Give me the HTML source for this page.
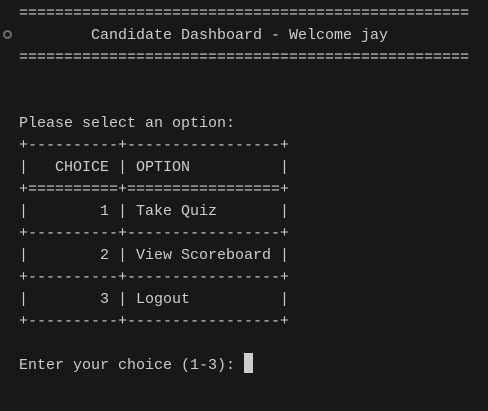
<!DOCTYPE html>
<html><head><style>
html,body{margin:0;padding:0;background:#181818;width:488px;height:411px;overflow:hidden}
pre{position:absolute;left:19px;top:3px;margin:0;font-family:"Liberation Mono",monospace;font-size:15px;line-height:22px;color:#cccccc;letter-spacing:0}
.c{position:absolute;left:3px;top:30px;width:5px;height:5px;border:2px solid #6e6e6e;border-radius:50%}
.cur{position:absolute;left:244px;top:353px;width:9px;height:20px;background:#cccccc}
</style></head><body>
<div class="c"></div>
<pre>==================================================
        Candidate Dashboard - Welcome jay
==================================================


Please select an option:
+----------+-----------------+
|   CHOICE | OPTION          |
+==========+=================+
|        1 | Take Quiz       |
+----------+-----------------+
|        2 | View Scoreboard |
+----------+-----------------+
|        3 | Logout          |
+----------+-----------------+

Enter your choice (1-3): </pre>
<div class="cur"></div>
</body></html>
